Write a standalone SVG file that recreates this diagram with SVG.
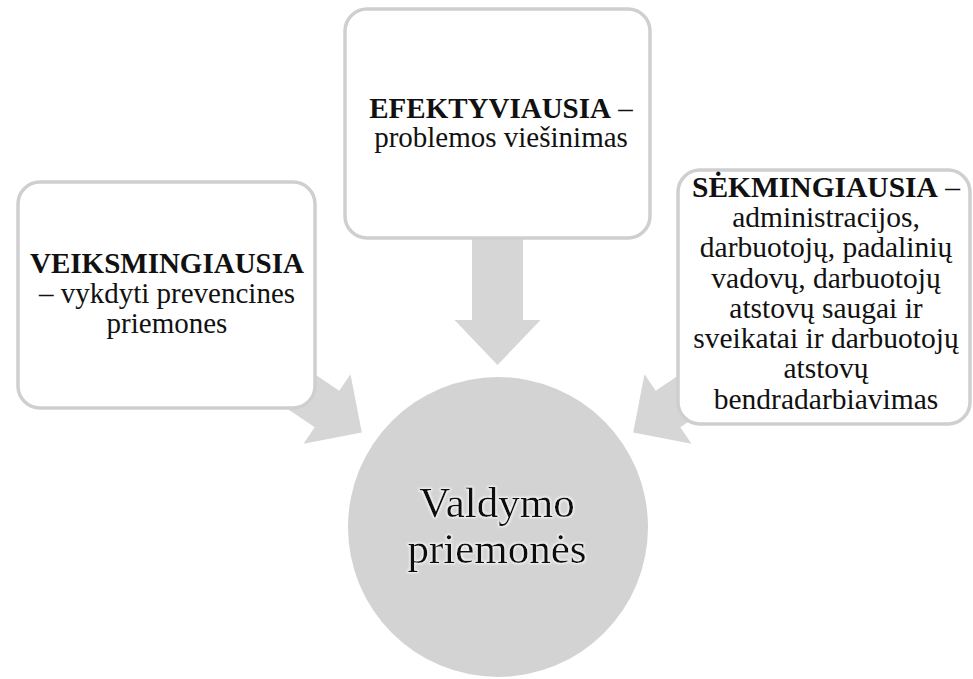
<svg xmlns="http://www.w3.org/2000/svg" width="973" height="679" viewBox="0 0 973 679">
  <defs>
    <style>
      .box { fill: #ffffff; stroke: #cfcfcf; stroke-width: 3.5; }
      .arrow { fill: #d6d6d6; }
      .hub { fill: #d3d3d3; }
      .t { font-family: "Liberation Serif", "Times New Roman", serif; font-size: 29px; fill: #111111; text-anchor: middle; }
      .tr { font-size: 29.5px; }
      .b { font-weight: bold; }
      .big { font-family: "Liberation Serif", "Times New Roman", serif; font-size: 43px; fill: #111111; text-anchor: middle; }
    </style>
    <filter id="glow" x="-10%" y="-30%" width="120%" height="160%">
      <feMorphology in="SourceAlpha" operator="dilate" radius="1" result="d"/>
      <feGaussianBlur in="d" stdDeviation="1.2" result="b"/>
      <feFlood flood-color="#ffffff" flood-opacity="0.8"/>
      <feComposite in2="b" operator="in" result="g"/>
      <feMerge>
        <feMergeNode in="g"/>
        <feMergeNode in="SourceGraphic"/>
      </feMerge>
    </filter>
  </defs>

  <g id="connectors">
    <polygon class="arrow" transform="translate(497.5,320) rotate(90)" points="-100,-25.5 0,-25.5 0,-43 45,0 0,43 0,25.5 -100,25.5"/>
    <polygon class="arrow" transform="translate(327,409) rotate(34)" points="-130,-22 0,-22 0,-42 42,0 0,42 0,22 -130,22"/>
    <polygon class="arrow" transform="translate(668,409) rotate(146)" points="-130,-22 0,-22 0,-42 42,0 0,42 0,22 -130,22"/>
  </g>

  <g id="node-left">
    <rect class="box" x="18" y="182" width="297" height="226" rx="22" ry="22"/>
    <text class="t" x="167" y="273"><tspan class="b">VEIKSMINGIAUSIA</tspan></text>
    <text class="t" x="167" y="303">– vykdyti prevencines</text>
    <text class="t" x="167" y="333">priemones</text>
  </g>

  <g id="node-top">
    <rect class="box" x="345" y="9" width="305" height="229" rx="22" ry="22"/>
    <text class="t" x="501" y="118"><tspan class="b">EFEKTYVIAUSIA</tspan> –</text>
    <text class="t" x="501" y="147">problemos viešinimas</text>
  </g>

  <g id="node-right">
    <rect class="box" x="678" y="170" width="292" height="254" rx="22" ry="22"/>
    <text class="t tr" x="826" y="197"><tspan class="b">SĖKMINGIAUSIA</tspan> –</text>
    <text class="t tr" x="826" y="227">administracijos,</text>
    <text class="t tr" x="826" y="257">darbuotojų, padalinių</text>
    <text class="t tr" x="826" y="288">vadovų, darbuotojų</text>
    <text class="t tr" x="826" y="318">atstovų saugai ir</text>
    <text class="t tr" x="826" y="348">sveikatai ir darbuotojų</text>
    <text class="t tr" x="826" y="378">atstovų</text>
    <text class="t tr" x="826" y="409">bendradarbiavimas</text>
  </g>

  <g id="node-center">
    <circle class="hub" cx="498" cy="527" r="150"/>
    <g filter="url(#glow)">
      <text class="big" x="497" y="517">Valdymo</text>
      <text class="big" x="497" y="563">priemonės</text>
    </g>
  </g>
</svg>
